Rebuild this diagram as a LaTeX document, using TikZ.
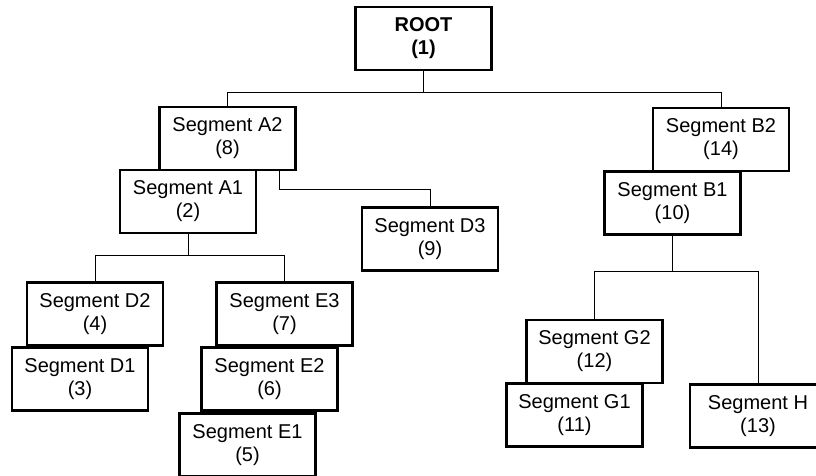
\documentclass[tikz,border=0pt]{standalone}
\usepackage{fontspec}
\setmainfont{Liberation Sans}
\tikzset{
  seg/.style={draw, line width=2.4pt, fill=white, minimum width=136pt,
    minimum height=63pt, inner sep=0pt, align=center,
    font=\fontsize{20}{23}\selectfont},
  link/.style={draw, line width=0.9pt},
}

\begin{document}
\begin{tikzpicture}[x=1pt,y=-1pt]
\useasboundingbox (0,0) rectangle (816,475);
\clip (0,0) rectangle (816,475);
% Root and first level
\node[seg, font=\bfseries\fontsize{20}{23}\selectfont] (root) at (423.5,38.5) {ROOT\\(1)};
\node[seg] (a2) at (227.5,138.5) {Segment A2\\(8)};
\node[seg] (a1) at (188,201.5) {Segment A1\\(2)};
\node[seg] (d3) at (430,239) {Segment D3\\(9)};
\node[seg] (b2) at (721,139.5) {Segment B2\\(14)};
\node[seg] (b1) at (672.5,203) {Segment B1\\(10)};
% Under A1
\node[seg] (d2) at (95,314) {Segment D2\\(4)};
\node[seg] (d1) at (80,379) {Segment D1\\(3)};
\node[seg] (e3) at (284.5,314) {Segment E3\\(7)};
\node[seg] (e2) at (269.5,379) {Segment E2\\(6)};
\node[seg] (e1) at (247.5,445) {Segment E1\\(5)};
% Under B1
\node[seg] (g2) at (594.5,351.5) {Segment G2\\(12)};
\node[seg] (g1) at (574.5,415) {Segment G1\\(11)};
\node[seg] (h) at (758,416) {Segment H\\(13)};
% Connectors
\draw[link] (root.south) -- ++(0,21) coordinate (rootbus);
\draw[link] (rootbus) -| (a2.north);
\draw[link] (rootbus) -| (b2.north);
\draw[link] ([xshift=-17pt]a2.south east) -- ++(0,18) -| (d3.north);
\draw[link] (a1.south) -- ++(0,21) coordinate (a1bus);
\draw[link] (a1bus) -| (d2.north);
\draw[link] (a1bus) -| (e3.north);
\draw[link] (b1.south) -- ++(0,36) coordinate (b1bus);
\draw[link] (b1bus) -| (g2.north);
\draw[link] (b1bus) -| (h.north);
\end{tikzpicture}
\end{document}
